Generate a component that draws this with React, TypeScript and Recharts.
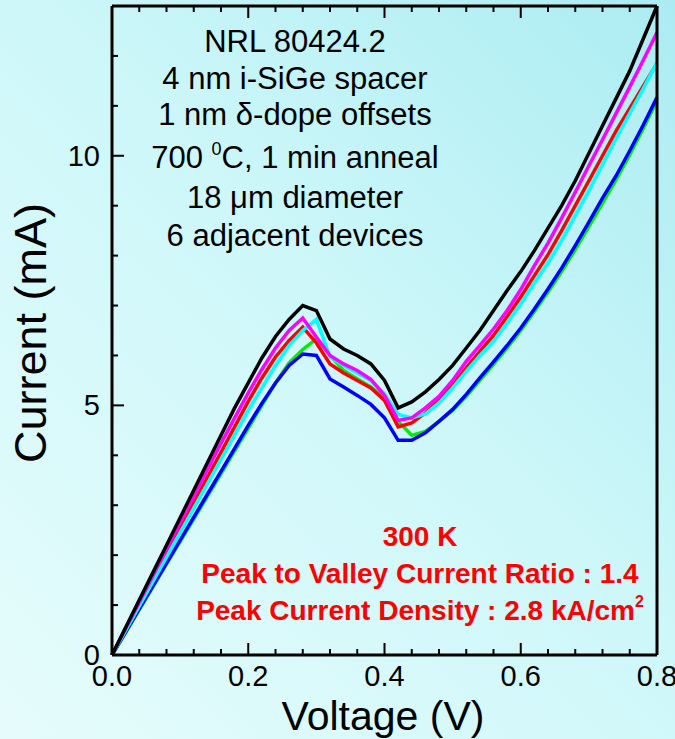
import React from 'react'
import { LineChart, Line, XAxis, YAxis } from 'recharts'

// bias points (V)
const voltage = [
  0, 0.02, 0.04, 0.06, 0.08, 0.1, 0.12, 0.14, 0.16, 0.18, 0.2, 0.22, 0.24, 0.26, 0.28, 0.3, 0.32, 0.34, 0.36, 0.38,
  0.4, 0.42, 0.44, 0.46, 0.48, 0.5, 0.52, 0.54, 0.56, 0.58, 0.6, 0.62, 0.64, 0.66, 0.68, 0.7, 0.72, 0.74, 0.76, 0.78, 0.8,
]

// current (mA) for each of the 6 devices
const devBlack = [
  0, 0.55, 1.1, 1.65, 2.2, 2.75, 3.3, 3.85, 4.4, 4.95, 5.45, 5.95, 6.38, 6.72, 7.0, 6.9, 6.33, 6.13, 6.0, 5.83,
  5.5, 4.95, 5.07, 5.27, 5.52, 5.8, 6.15, 6.5, 6.9, 7.3, 7.68, 8.1, 8.55, 9.0, 9.5, 10.05, 10.6, 11.15, 11.7, 12.35, 13.0,
]
const devMagenta = [
  0, 0.53, 1.06, 1.59, 2.12, 2.65, 3.18, 3.71, 4.24, 4.75, 5.25, 5.72, 6.15, 6.5, 6.75, 6.37, 6.0, 5.83, 5.7, 5.52,
  5.2, 4.7, 4.75, 4.95, 5.18, 5.5, 5.88, 6.2, 6.53, 6.9, 7.32, 7.8, 8.25, 8.75, 9.27, 9.8, 10.32, 10.85, 11.38, 11.92, 12.47,
]
const devRed = [
  0, 0.51, 1.02, 1.52, 2.03, 2.54, 3.05, 3.56, 4.06, 4.57, 5.08, 5.55, 5.97, 6.3, 6.57, 6.25, 5.83, 5.65, 5.5, 5.35,
  5.1, 4.57, 4.65, 4.85, 5.1, 5.4, 5.75, 6.08, 6.4, 6.78, 7.17, 7.6, 8.02, 8.5, 9.0, 9.5, 10.0, 10.5, 10.95, 11.4, 11.85,
]
const devCyan = [
  0, 0.49, 0.98, 1.47, 1.96, 2.45, 2.94, 3.43, 3.92, 4.41, 4.9, 5.35, 5.8, 6.2, 6.5, 6.72, 5.97, 5.8, 5.65, 5.5,
  5.23, 4.82, 4.75, 4.83, 5.05, 5.35, 5.68, 6.0, 6.28, 6.65, 7.03, 7.45, 7.85, 8.3, 8.8, 9.3, 9.82, 10.35, 10.85, 11.35, 11.87,
]
const devBlue = [
  0, 0.46, 0.92, 1.38, 1.84, 2.3, 2.76, 3.22, 3.68, 4.14, 4.6, 5.04, 5.45, 5.8, 6.03, 6.0, 5.53, 5.37, 5.2, 5.02,
  4.75, 4.3, 4.3, 4.45, 4.68, 4.92, 5.22, 5.55, 5.87, 6.2, 6.55, 6.93, 7.33, 7.75, 8.2, 8.67, 9.15, 9.6, 10.1, 10.62, 11.17,
]
const devGreen = [
  0, 0.45, 0.91, 1.36, 1.82, 2.27, 2.72, 3.18, 3.63, 4.09, 4.54, 5.0, 5.45, 5.85, 6.12, 6.33, 6.0, 5.7, 5.53, 5.37,
  5.15, 4.68, 4.4, 4.48, 4.68, 4.9, 5.18, 5.5, 5.82, 6.15, 6.5, 6.88, 7.27, 7.68, 8.12, 8.58, 9.05, 9.52, 10.02, 10.55, 11.1,
]

const xTicks = [
  0, 0.04, 0.08, 0.12, 0.16, 0.2, 0.24, 0.28, 0.32, 0.36, 0.4, 0.44, 0.48, 0.52, 0.56, 0.6, 0.64, 0.68, 0.72, 0.76, 0.8,
]
const xLabels = [0, 0.2, 0.4, 0.6, 0.8]
const yTicks = [0, 1, 2, 3, 4, 5, 6, 7, 8, 9, 10, 11, 12, 13]
const yLabels = [0, 5, 10]

const infoLines = ['NRL 80424.2', '4 nm i-SiGe spacer', '1 nm \u03b4-dope offsets', '700 ', '18 \u03bcm diameter', '6 adjacent devices']
const FONT = '"Liberation Sans", Arial, sans-serif'

const rows = voltage.map((v, i) => ({
  v,
  black: devBlack[i],
  magenta: devMagenta[i],
  red: devRed[i],
  cyan: devCyan[i],
  blue: devBlue[i],
  green: devGreen[i],
}))

const near = (list: number[], v: number) => list.some((m) => Math.abs(m - v) < 1e-6)

// ticks point into the frame; only the bottom/left ones carry labels
const makeTick = (side: 'bottom' | 'top' | 'left' | 'right') => (props: any) => {
  const { x, y, payload } = props
  const v = payload.value as number
  const major = side === 'bottom' || side === 'top' ? near(xLabels, v) : near(yLabels, v)
  const len = major ? 12 : 6
  if (side === 'bottom' || side === 'top') {
    const dir = side === 'bottom' ? -1 : 1
    return (
      <g>
        <line x1={x} y1={y} x2={x} y2={y + dir * len} stroke="#000" strokeWidth={2} />
        {side === 'bottom' && major && (
          <text x={x} y={y + 31} textAnchor="middle" fontSize={29} fontFamily={FONT} fill="#000">
            {v.toFixed(1)}
          </text>
        )}
      </g>
    )
  }
  const dir = side === 'left' ? 1 : -1
  return (
    <g>
      <line x1={x} y1={y} x2={x + dir * len} y2={y} stroke="#000" strokeWidth={2} />
      {side === 'left' && major && (
        <text x={x - 12} y={y + 10} textAnchor="end" fontSize={29} fontFamily={FONT} fill="#000">
          {v}
        </text>
      )}
    </g>
  )
}

const axisLine = { stroke: '#000', strokeWidth: 3 }

export default function App() {
  return (
    <div
      style={{
        position: 'absolute',
        left: 0,
        top: 0,
        width: 675,
        height: 739,
        background: 'linear-gradient(225deg, #abecf2 0%, #cdf7f9 45%, #e6fcfc 100%)',
      }}
    >
      <LineChart width={675} height={739} data={rows} margin={{ top: 5, right: 17, bottom: 83, left: 111 }}>
        <XAxis
          xAxisId="b"
          dataKey="v"
          type="number"
          domain={[0, 0.8]}
          ticks={xTicks}
          interval={0}
          height={1}
          tickSize={0}
          tickMargin={0}
          tickLine={false}
          axisLine={axisLine}
          tick={makeTick('bottom')}
        />
        <XAxis
          xAxisId="t"
          orientation="top"
          dataKey="v"
          type="number"
          domain={[0, 0.8]}
          ticks={xTicks}
          interval={0}
          height={1}
          tickSize={0}
          tickMargin={0}
          tickLine={false}
          axisLine={axisLine}
          tick={makeTick('top')}
        />
        <YAxis
          yAxisId="l"
          type="number"
          domain={[0, 13]}
          ticks={yTicks}
          interval={0}
          width={1}
          tickSize={0}
          tickMargin={0}
          tickLine={false}
          axisLine={axisLine}
          tick={makeTick('left')}
        />
        <YAxis
          yAxisId="r"
          orientation="right"
          type="number"
          domain={[0, 13]}
          ticks={yTicks}
          interval={0}
          width={1}
          tickSize={0}
          tickMargin={0}
          tickLine={false}
          axisLine={axisLine}
          tick={makeTick('right')}
        />
        <Line xAxisId="b" yAxisId="l" dataKey="green" stroke="#00ee00" strokeWidth={3.5} dot={false} isAnimationActive={false} />
        <Line xAxisId="b" yAxisId="l" dataKey="blue" stroke="#0000ff" strokeWidth={3.5} dot={false} isAnimationActive={false} />
        <Line xAxisId="b" yAxisId="l" dataKey="red" stroke="#ff0000" strokeWidth={3.5} dot={false} isAnimationActive={false} />
        <Line xAxisId="b" yAxisId="l" dataKey="cyan" stroke="#00ffff" strokeWidth={3.5} dot={false} isAnimationActive={false} />
        <Line xAxisId="b" yAxisId="l" dataKey="magenta" stroke="#ff00ff" strokeWidth={3.5} dot={false} isAnimationActive={false} />
        <Line xAxisId="b" yAxisId="l" dataKey="black" stroke="#000000" strokeWidth={3.5} dot={false} isAnimationActive={false} />
      </LineChart>

      <svg
        width={675}
        height={739}
        style={{ position: 'absolute', left: 0, top: 0, pointerEvents: 'none' }}
        fontFamily={FONT}
      >
        <g fontSize={31} fill="#000" textAnchor="middle">
          <text x={295} y={52}>{infoLines[0]}</text>
          <text x={295} y={89}>{infoLines[1]}</text>
          <text x={295} y={125}>{infoLines[2]}</text>
          <text x={295} y={168}>
            {infoLines[3]}
            <tspan fontSize={18} dy={-13}>0</tspan>
            <tspan dy={13}>C, 1 min anneal</tspan>
          </text>
          <text x={295} y={208}>{infoLines[4]}</text>
          <text x={295} y={246}>{infoLines[5]}</text>
        </g>
        <g fontSize={28} fontWeight="bold" fill="#ff0000" textAnchor="middle">
          <text x={420} y={546}>300 K</text>
          <text x={420} y={583}>Peak to Valley Current Ratio : 1.4</text>
          <text x={420} y={620}>
            Peak Current Density : 2.8 kA/cm
            <tspan fontSize={16} dy={-13}>2</tspan>
          </text>
        </g>
        <text x={383} y={730} textAnchor="middle" fontSize={41} fill="#000">
          Voltage (V)
        </text>
        <text x={46} y={333} textAnchor="middle" fontSize={45} fill="#000" transform="rotate(-90 46 333)">
          Current (mA)
        </text>
      </svg>
    </div>
  )
}
